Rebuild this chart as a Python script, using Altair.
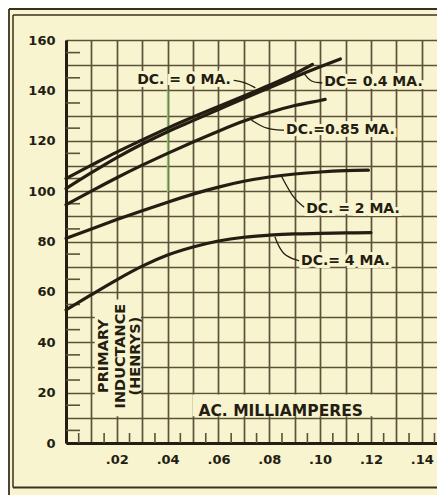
import altair as alt
import pandas as pd

# ---------------- data ----------------
dc0_x = [0, .01, .02, .03, .04, .05, .06, .07, .08, .09, .097]
dc0_y = [105, 110.3, 115.5, 120.3, 125, 129.4, 133.6, 137.8, 142, 146.6, 150.3]

dc04_x = [0, .01, .02, .03, .04, .05, .06, .07, .08, .09, .10, .108]
dc04_y = [101, 107.3, 113.3, 118.7, 123.6, 128, 132.4, 136.8, 141, 145.3, 149.4, 152.5]

dc085_x = [0, .01, .02, .03, .04, .05, .06, .07, .08, .09, .10, .102]
dc085_y = [94.6, 100, 105.3, 110.3, 115, 119.5, 123.8, 127.8, 131.2, 134, 136, 136.4]

dc2_x = [0, .01, .02, .03, .04, .05, .06, .07, .08, .09, .10, .11, .119]
dc2_y = [81.2, 85, 88.7, 92.2, 95.6, 98.8, 101.6, 103.9, 105.6, 106.8, 107.6, 108.1, 108.3]

dc4_x = [0, .01, .02, .03, .04, .05, .06, .07, .08, .09, .10, .11, .12]
dc4_y = [52.8, 58.9, 64.8, 70.2, 74.6, 77.8, 80.2, 81.7, 82.5, 83, 83.2, 83.4, 83.5]

series_names = ["dc0", "dc04", "dc085", "dc2", "dc4"]
series_labels = ["DC. = 0 MA.", "DC= 0.4 MA.", "DC.=0.85 MA.", "DC. = 2 MA.", "DC.= 4 MA."]
label_x = [0.0280, 0.1016, 0.0866, 0.0945, 0.0925]
label_y = [144, 143.3, 124.2, 92.9, 72.2]

# leader lines from labels to curves
lead_dc0 = ([.0660, .0705, .0745], [144.0, 143.2, 141.0])
lead_dc04 = ([.1010, .0962, .0938], [143.0, 143.2, 146.6])
lead_dc085 = ([.0858, .0790, .0730], [124.2, 124.4, 128.2])
lead_dc2 = ([.0938, .0898, .0848], [93.6, 96.5, 105.9])
lead_dc4 = ([.0918, .0850, .0822], [72.3, 74.5, 81.9])

x_ticks = [round(i * 0.01, 2) for i in range(15)]
y_ticks = list(range(0, 161, 10))
x_minor = [round(0.005 + i * 0.01, 3) for i in range(15)]
y_minor = list(range(5, 160, 10))

x_axis_title = "AC. MILLIAMPERES"
y_axis_title = ["PRIMARY", "INDUCTANCE", "(HENRYS)"]
y_title_x = [0.0150, 0.0218, 0.0277]

# ---------------- styling ----------------
BG = "#f7f4cf"
INK = "#241d12"
GRID = "#5e5139"
FONT = "DejaVu Sans"

W, H = 371, 403

xs = alt.Scale(domain=[0, 0.146], nice=False, zero=False)
ys = alt.Scale(domain=[0, 160], nice=False)

xaxis = alt.Axis(values=x_ticks, grid=True, gridColor=GRID, gridWidth=1.7, gridOpacity=1,
                 domain=True, domainColor=INK, domainWidth=3, ticks=False,
                 labelExpr="(round(datum.value*100) % 2 == 0 && datum.value > 0.001) ? replace(format(datum.value, '.2f'), '0.', '.') : ''",
                 labelFont=FONT, labelFontSize=13, labelFontWeight="bold", labelColor=INK,
                 labelPadding=10, labelOverlap=False, labelFlush=False, title=None)
yaxis = alt.Axis(values=y_ticks, grid=True, gridColor=GRID, gridWidth=1.7, gridOpacity=1,
                 domain=True, domainColor=INK, domainWidth=3, ticks=False,
                 labelExpr="datum.value % 20 == 0 ? datum.label : ''",
                 labelFont=FONT, labelFontSize=13, labelFontWeight="bold", labelColor=INK,
                 labelPadding=11, labelOverlap=False, labelFlush=False, title=None)

X = alt.X("x:Q", scale=xs, axis=xaxis)
Y = alt.Y("y:Q", scale=ys, axis=yaxis)

# ---------------- tables ----------------
rows = []
for name, xv, yv in zip(series_names, [dc0_x, dc04_x, dc085_x, dc2_x, dc4_x],
                        [dc0_y, dc04_y, dc085_y, dc2_y, dc4_y]):
    for i, (a, b) in enumerate(zip(xv, yv)):
        rows.append({"series": name, "x": a, "y": b, "o": i})
curves = pd.DataFrame(rows)

lrows = []
for name, (xv, yv) in zip(series_names, [lead_dc0, lead_dc04, lead_dc085, lead_dc2, lead_dc4]):
    for i, (a, b) in enumerate(zip(xv, yv)):
        lrows.append({"series": name, "x": a, "y": b, "o": i})
leaders = pd.DataFrame(lrows)

labels = pd.DataFrame({"x": label_x, "y": label_y, "t": series_labels})
ytitle = pd.DataFrame({"x": y_title_x, "y": [34.5] * 3, "t": y_axis_title})
xtitle = pd.DataFrame({"x": [0.0845], "y": [12.6], "t": [x_axis_title]})
boxes = pd.DataFrame({"x": [0.0498, 0.0113], "x2": [0.1215, 0.0295],
                      "y": [10.6, 10.6], "y2": [19.3, 57]})
xminor = pd.DataFrame({"x": x_minor})
yminor = pd.DataFrame({"y": y_minor})
green = pd.DataFrame({"x": [0.04], "y": [99.6], "y2": [140]})
one = alt.Data(values=[{}])

# ---------------- layers ----------------
base_grid = alt.Chart(curves).mark_line(opacity=0).encode(x=X, y=Y)

box_layer = alt.Chart(boxes).mark_rect(color=BG).encode(
    x=X, x2="x2:Q", y=Y, y2="y2:Q")

green_layer = alt.Chart(green).mark_rule(color="#86c46a", strokeWidth=1.6).encode(
    x=X, y=Y, y2="y2:Q")

xminor_layer = alt.Chart(xminor).mark_rule(color=GRID, strokeWidth=1.6).encode(
    x=X, y=alt.value(H), y2=alt.value(H - 10))
yminor_layer = alt.Chart(yminor).mark_rule(color=GRID, strokeWidth=1.6).encode(
    y=Y, x=alt.value(0), x2=alt.value(14))

curve_layer = alt.Chart(curves).mark_line(
    interpolate="monotone", strokeWidth=3.2, color=INK, strokeCap="round").encode(
    x=X, y=Y, detail="series:N", order="o:Q")

leader_layer = alt.Chart(leaders).mark_line(
    interpolate="basis", strokeWidth=1.3, color=INK).encode(
    x=X, y=Y, detail="series:N", order="o:Q")

halo = alt.Chart(labels).mark_text(
    align="left", baseline="middle", font=FONT, fontWeight="bold", fontSize=14,
    color=BG, stroke=BG, strokeWidth=6).encode(x=X, y=Y, text="t:N")
label_layer = alt.Chart(labels).mark_text(
    align="left", baseline="middle", font=FONT, fontWeight="bold", fontSize=14,
    color=INK).encode(x=X, y=Y, text="t:N")

xtitle_layer = alt.Chart(xtitle).mark_text(
    align="center", baseline="middle", font=FONT, fontWeight="bold", fontSize=15.5,
    color=INK).encode(x=X, y=Y, text="t:N")
ytitle_layer = alt.Chart(ytitle).mark_text(
    align="center", baseline="middle", font=FONT, fontWeight="bold", fontSize=14.5,
    angle=270, color=INK).encode(x=X, y=Y, text="t:N")

# decorative double frame
frame_col = "#3a3020"
fl = [
    alt.Chart(one).mark_rule(color=frame_col, strokeWidth=1.8).encode(
        x=alt.value(-57), y=alt.value(-31), y2=alt.value(460)),
    alt.Chart(one).mark_rule(color=frame_col, strokeWidth=1.8).encode(
        x=alt.value(-57), x2=alt.value(420), y=alt.value(-31)),
    alt.Chart(one).mark_rule(color=frame_col, strokeWidth=1.5).encode(
        x=alt.value(-53), y=alt.value(-25), y2=alt.value(447.5)),
    alt.Chart(one).mark_rule(color=frame_col, strokeWidth=1.5).encode(
        x=alt.value(-53), x2=alt.value(420), y=alt.value(-25)),
    alt.Chart(one).mark_rule(color=frame_col, strokeWidth=1.8).encode(
        x=alt.value(-53), x2=alt.value(420), y=alt.value(447.5)),
]

chart = alt.layer(
    base_grid, box_layer, green_layer, xminor_layer, yminor_layer,
    curve_layer, leader_layer, halo, label_layer, xtitle_layer, ytitle_layer, *fl
).properties(
    width=W, height=H,
    padding={"left": 58, "top": 32, "right": 0, "bottom": 52},
    autosize=alt.AutoSizeParams(type="none"),
    background=BG,
).configure_view(strokeWidth=0)

chart.save("out.html", embed_options={"renderer": "svg", "actions": False})
